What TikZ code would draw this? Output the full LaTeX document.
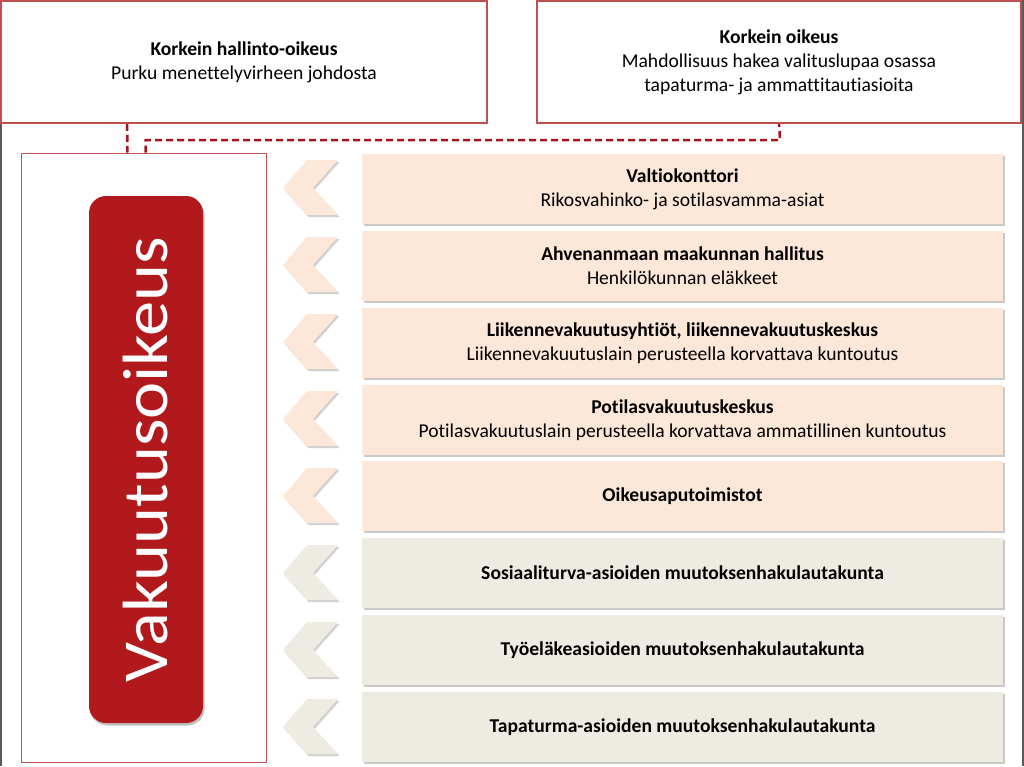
\documentclass[tikz,border=0pt]{standalone}
\usepackage{fontspec}
\setmainfont{Carlito}[Ligatures=NoCommon]
\usetikzlibrary{shadows,calc}
\definecolor{frameRed}{RGB}{192,80,80}
\definecolor{dashRed}{RGB}{168,20,30}
\definecolor{voRed}{RGB}{178,25,28}
\definecolor{peach}{RGB}{252,231,216}
\definecolor{tan}{RGB}{238,236,226}
\definecolor{edgeGray}{RGB}{90,90,90}
\begin{document}
\begin{tikzpicture}[x=1pt,y=-1pt,
  txt/.style={font=\fontsize{19.6}{24}\selectfont, text=black, align=center},
  topbox/.style={txt, draw=frameRed, line width=1.8pt, fill=white, inner sep=0pt},
  rowbox/.style={txt, minimum width=641pt, minimum height=70pt, inner sep=0pt,
    drop shadow={shadow xshift=1.5pt, shadow yshift=-2pt, opacity=0.35, fill=black!60}},
  peachrow/.style={rowbox, fill=peach},
  tanrow/.style={rowbox, fill=tan},
  chev/.style={drop shadow={shadow xshift=1.5pt, shadow yshift=-2pt, opacity=0.3, fill=black!60}},
  conn/.style={draw=dashRed, line width=2.5pt, dash pattern=on 7pt off 4pt}
]
\useasboundingbox (0,0) rectangle (1024,766);
\fill[white] (0,0) rectangle (1024,766);
% slide edges
\draw[edgeGray, line width=1.5pt] (0.75,0) -- (0.75,766);
\draw[edgeGray, line width=1.5pt] (1023,0) -- (1023,766);

% top boxes
\node[topbox, minimum width=486pt, minimum height=122pt] (kho) at (244,62)
  {\textbf{Korkein hallinto-oikeus}\\Purku menettelyvirheen johdosta};
\node[topbox, minimum width=484pt, minimum height=122pt] (ko) at (779,62)
  {\textbf{Korkein oikeus}\\Mahdollisuus hakea valituslupaa osassa\\tapaturma- ja ammattitautiasioita};

% left frame
\node[draw=frameRed, line width=1pt, fill=white, minimum width=245pt, minimum height=609pt, inner sep=0pt] (frame) at (143.5,457.5) {};

% red court box
\node[fill=voRed, rounded corners=17pt, minimum width=114pt, minimum height=527pt, inner sep=0pt,
  drop shadow={shadow xshift=1.5pt, shadow yshift=-2.5pt, opacity=0.35, fill=black!70}] (vo) at (146,459.5) {};
\node[rotate=90, text=white, font=\fontsize{64}{64}\selectfont, inner sep=0pt] (votext) at (vo.center)
  {\scalebox{1.1}[1]{Vakuutusoikeus}};

% dashed connectors
\draw[conn] ([xshift=127pt]kho.south west) -- ([xshift=107pt]frame.north west);
\coordinate (bend) at (780,140);
\draw[conn] ([xshift=125pt]frame.north west) |- (bend) -- ([xshift=243pt]ko.south west);

% rows
\node[peachrow] (r1) at (682.5,189) {\textbf{Valtiokonttori}\\Rikosvahinko- ja sotilasvamma-asiat};
\node[peachrow] (r2) at (682.5,266) {\textbf{Ahvenanmaan maakunnan hallitus}\\Henkilökunnan eläkkeet};
\node[peachrow] (r3) at (682.5,343) {\textbf{Liikennevakuutusyhtiöt, liikennevakuutuskeskus}\\Liikennevakuutuslain perusteella korvattava kuntoutus};
\node[peachrow] (r4) at (682.5,420) {\textbf{Potilasvakuutuskeskus}\\Potilasvakuutuslain perusteella korvattava ammatillinen kuntoutus};
\node[peachrow] (r5) at (682.5,496) {\textbf{Oikeusaputoimistot}};
\node[tanrow] (r6) at (682.5,573) {\textbf{Sosiaaliturva-asioiden muutoksenhakulautakunta}};
\node[tanrow] (r7) at (682.5,650) {\textbf{Työeläkeasioiden muutoksenhakulautakunta}};
\node[tanrow] (r8) at (682.5,727) {\textbf{Tapaturma-asioiden muutoksenhakulautakunta}};

% chevrons
\foreach \c/\col in {188/peach,265/peach,342/peach,419/peach,496/peach,573/tan,650/tan,727/tan}{
  \fill[\col, chev] (283,\c) -- (307,\c-28) -- (338,\c-28) -- (313,\c) -- (338,\c+27) -- (307,\c+27) -- cycle;
}
\end{tikzpicture}
\end{document}
